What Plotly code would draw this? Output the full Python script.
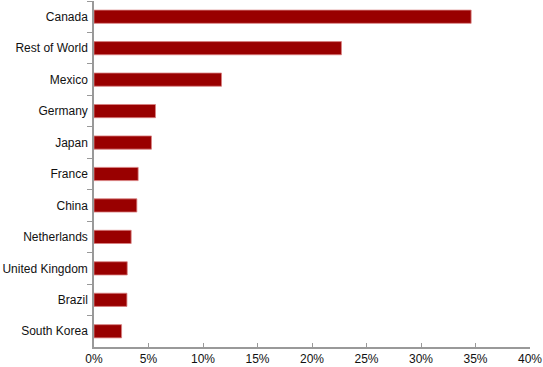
import plotly.graph_objects as go

countries = ["Canada", "Rest of World", "Mexico", "Germany", "Japan", "France",
             "China", "Netherlands", "United Kingdom", "Brazil", "South Korea"]
shares = [34.6, 22.7, 11.7, 5.64, 5.27, 4.05, 3.93, 3.41, 3.05, 3.02, 2.53]
x_ticks = [0, 5, 10, 15, 20, 25, 30, 35, 40]
x_tick_labels = [f"{v}%" for v in x_ticks]

fig = go.Figure(go.Bar(
    y=countries, x=shares, orientation="h",
    marker=dict(color="#990000", line=dict(color="#d98080", width=0.8)),
    hoverinfo="skip",
))

fig.update_layout(
    width=543, height=367,
    margin=dict(l=94, r=11, t=1, b=20),
    paper_bgcolor="white", plot_bgcolor="white",
    bargap=0.58, showlegend=False,
    font=dict(family="Liberation Sans, Arial, sans-serif", size=12, color="#111"),
)
fig.update_xaxes(
    range=[0, 40], tickvals=x_ticks, ticktext=x_tick_labels,
    showgrid=False, zeroline=False,
    showline=True, linecolor="#999", linewidth=1.5,
    ticks="inside", ticklen=4, tickcolor="#999", tickwidth=1,
    ticklabeloverflow="allow",
    fixedrange=True,
)
fig.update_yaxes(
    categoryorder="array", categoryarray=countries, autorange="reversed",
    showgrid=False, zeroline=False,
    showline=True, linecolor="#999", linewidth=1.5,
    ticks="outside", tickson="boundaries", ticklen=5, tickcolor="#999", tickwidth=1,
    ticklabelstandoff=2,
    fixedrange=True,
)

fig.write_html("out.html")
